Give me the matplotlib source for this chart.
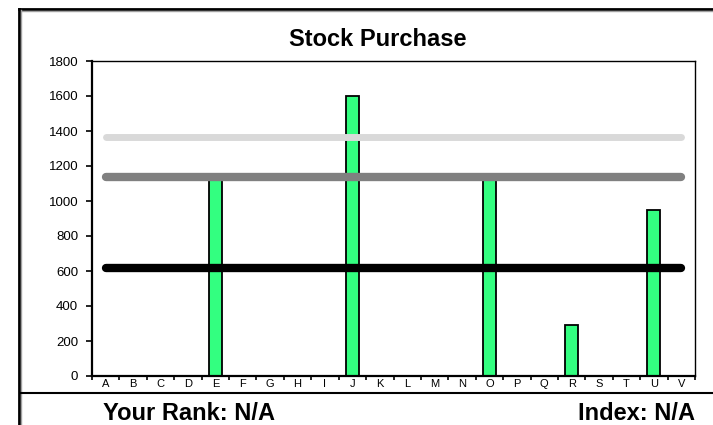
import matplotlib.pyplot as plt
import matplotlib.lines as mlines
import numpy as np

plt.rcParams['font.family'] = ['Liberation Sans', 'DejaVu Sans']

# Data
categories = list("ABCDEFGHIJKLMNOPQRSTUV")
purchases = [0, 0, 0, 0, 1130, 0, 0, 0, 0, 1600, 0, 0, 0, 0, 1130, 0, 0, 290, 0, 0, 950, 0]
ref_levels = [1365, 1140, 620]
ref_colors = ['#d9d9d9', '#808080', '#000000']
ref_widths = [5, 6, 6]

fig = plt.figure(figsize=(7.13, 4.25), dpi=100)
ax = fig.add_axes([92/713, 49/425, 603/713, 315/425])

x = np.arange(len(categories))
ax.bar(x, purchases, width=0.48, color='#33ff80', edgecolor='black', linewidth=1.3, zorder=2)

for lvl, c, w in zip(ref_levels, ref_colors, ref_widths):
    ax.plot([x[0], x[-1]], [lvl, lvl], color=c, linewidth=w, solid_capstyle='round', zorder=3)

ax.set_xlim(-0.5, len(categories) - 0.5)
ax.set_ylim(0, 1800)
ax.set_yticks(np.arange(0, 1801, 200))
ax.tick_params(axis='y', labelsize=9.5, length=4, width=1.2, direction='out', pad=6)

ax.set_xticks(x)
ax.set_xticklabels(categories, fontsize=8)
ax.set_xticks(np.arange(-0.5, len(categories)), minor=True)
ax.tick_params(axis='x', which='major', length=0, pad=2)
ax.tick_params(axis='x', which='minor', length=3, width=1.2, direction='out')

for s in ['top', 'right']:
    ax.spines[s].set_linewidth(1.0)
for s in ['left', 'bottom']:
    ax.spines[s].set_linewidth(1.6)

fig.text(378/713, 1 - 40/425, 'Stock Purchase', ha='center', va='center',
         fontsize=17, fontweight='bold')
fig.text(103/713, 1 - 413/425, 'Your Rank: N/A', ha='left', va='center',
         fontsize=17, fontweight='bold')
fig.text(695/713, 1 - 413/425, 'Index: N/A', ha='right', va='center',
         fontsize=17, fontweight='bold')

# outer frame and divider
def fl(x0, y0, x1, y1, c='black', lw=2):
    fig.add_artist(mlines.Line2D([x0/713, x1/713], [1 - y0/425, 1 - y1/425],
                                 color=c, linewidth=lw, transform=fig.transFigure))

fl(19, 9, 713, 9, lw=2)
fl(20, 10.5, 713, 10.5, c='#a0a0a0', lw=1)
fl(19, 9, 19, 425, lw=2)
fl(20.5, 10, 20.5, 425, c='#a0a0a0', lw=1)
fl(21, 393, 713, 393, lw=1.5)

fig.savefig('out.png', dpi=100)
